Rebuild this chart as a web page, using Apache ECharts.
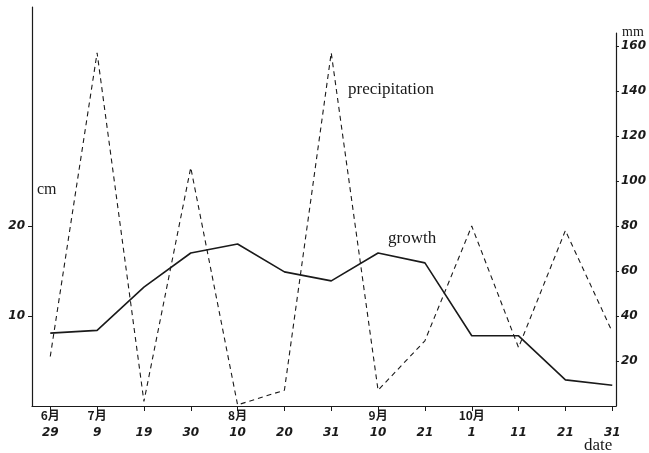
<!DOCTYPE html>
<html><head><meta charset="utf-8">
<script src="https://cdn.jsdelivr.net/npm/echarts@6/dist/echarts.min.js"></script>
<style>html,body{margin:0;padding:0;background:#fff}#c{width:649px;height:453px}</style>
</head><body><div id="c"></div>
<script>
const months = ['6月','7月','','','8月','','','9月','','10月','','',''];
const days = ['29','9','19','30','10','20','31','10','21','1','11','21','31'];
const growth = [8.1, 8.4, 13.2, 17.0, 18.0, 14.9, 13.9, 17.0, 15.9, 7.8, 7.8, 2.9, 2.3];
const precipitation = [22, 157, 2, 106, 0.5, 7, 157, 7, 29, 80, 26, 78, 33];
const cmTicks = [10, 20];
const mmTicks = [20, 40, 60, 80, 100, 120, 140, 160];

const idx = days.map((d, i) => i);
const ink = '#1a1a1a';
const numFont = {fontFamily: 'DejaVu Sans', fontStyle: 'italic', fontWeight: 'bold', fontSize: 12, color: ink};

const chart = echarts.init(document.getElementById('c'));
chart.setOption({
  backgroundColor: '#fff',
  animation: false,
  grid: [
    {left: 32, right: 33, top: 7, bottom: 47},
    {left: 32, right: 33, top: 33, bottom: 47}
  ],
  xAxis: [
    {type: 'value', gridIndex: 0, min: -0.39, max: 12.08,
     splitLine: {show: false},
     axisLine: {onZero: false, lineStyle: {color: ink, width: 1.2}},
     axisTick: {customValues: idx, length: 5, lineStyle: {color: ink}},
     axisLabel: {customValues: idx, margin: 1, lineHeight: 17,
       formatter: v => { const i = Math.round(v); return '{m|' + (months[i] || '\u00a0') + '}\n{d|' + days[i] + '}'; },
       rich: {
         m: {fontFamily: 'Noto Sans CJK JP', fontSize: 12, fontWeight: 'bold', color: ink, lineHeight: 17},
         d: Object.assign({lineHeight: 17}, numFont)
       }}},
    {type: 'value', gridIndex: 1, min: -0.39, max: 12.08, show: false, splitLine: {show: false},
     axisLine: {onZero: false}}
  ],
  yAxis: [
    {type: 'value', gridIndex: 0, min: 0, max: 44.33, position: 'left',
     splitLine: {show: false},
     axisLine: {show: true, onZero: false, lineStyle: {color: ink, width: 1.2}},
     axisTick: {show: true, customValues: cmTicks, length: 4, lineStyle: {color: ink}},
     axisLabel: Object.assign({customValues: cmTicks, margin: 7}, numFont)},
    {type: 'value', gridIndex: 1, min: 0, max: 165.8, position: 'right',
     splitLine: {show: false},
     axisLine: {show: true, onZero: false, lineStyle: {color: ink, width: 1.2}},
     axisTick: {show: true, customValues: mmTicks, length: 3, lineStyle: {color: ink}},
     axisLabel: Object.assign({customValues: mmTicks, margin: 5}, numFont)}
  ],
  series: [
    {name: 'growth', type: 'line', xAxisIndex: 0, yAxisIndex: 0,
     data: growth.map((v, i) => [i, v]), symbol: 'none',
     lineStyle: {color: ink, width: 1.6}},
    {name: 'precipitation', type: 'line', xAxisIndex: 1, yAxisIndex: 1,
     data: precipitation.map((v, i) => [i, v]), symbol: 'none',
     lineStyle: {color: ink, width: 1.1, type: [5, 4]}}
  ],
  graphic: [
    {type: 'text', left: 348, top: 81, style: {text: 'precipitation', font: '17px "Liberation Serif"', fill: ink}},
    {type: 'text', left: 388, top: 230, style: {text: 'growth', font: '17px "Liberation Serif"', fill: ink}},
    {type: 'text', left: 37, top: 182, style: {text: 'cm', font: '16px "Liberation Serif"', fill: ink}},
    {type: 'text', left: 622, top: 25, style: {text: 'mm', font: '14px "Liberation Serif"', fill: ink}},
    {type: 'text', left: 584, top: 437, style: {text: 'date', font: '17px "Liberation Serif"', fill: ink}}
  ]
});
</script></body></html>
